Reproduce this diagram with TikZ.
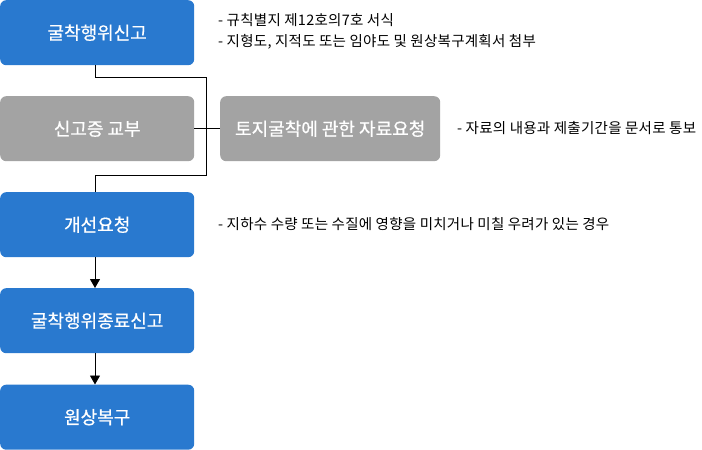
\documentclass[tikz,border=0pt]{standalone}
\usepackage{fontspec}
\setmainfont{Noto Sans CJK KR}
\newfontfamily\boxfont{Noto Sans CJK KR}[FakeBold=0.6]
\newfontfamily\notefont{Noto Sans CJK KR}[LetterSpace=1.8]
\usetikzlibrary{arrows.meta}
\definecolor{bblue}{HTML}{2979CF}
\definecolor{bgray}{HTML}{A3A3A3}
\tikzset{
  box/.style={rounded corners=6pt, minimum width=194pt, minimum height=65pt, inner sep=0pt, text=white, font=\boxfont\fontsize{18pt}{19pt}\selectfont, anchor=north west},
  bluebox/.style={box, fill=bblue},
  graybox/.style={box, fill=bgray},
  note/.style={font=\notefont\fontsize{14.5pt}{21pt}\selectfont, anchor=west, align=left, inner sep=0pt},
  conn/.style={line width=0.9pt, black},
  arr/.style={conn, -{Triangle[length=9pt, width=10pt]}}
}
\begin{document}
\begin{tikzpicture}[x=1pt, y=-1pt]
\useasboundingbox (0,0) rectangle (702,450);
\node[bluebox] (b1) at (0,0) {굴착행위신고};
\node[graybox] (b2) at (0,96) {신고증 교부};
\node[graybox, minimum width=220pt] (b3) at (220,96) {토지굴착에 관한 자료요청};
\node[bluebox] (b4) at (0,192) {개선요청};
\node[bluebox] (b5) at (0,288) {굴착행위종료신고};
\node[bluebox] (b6) at (0,384.5) {원상복구};
\coordinate (j1) at (95,77);
\coordinate (j2) at (206,77);
\coordinate (j3) at (206,175);
\coordinate (j4) at (95,175);
\draw[conn] (b1.south -| j1) -- (j1) -- (j2) -- (j3) -- (j4) -- (b4.north -| j4);
\draw[conn] (b2.east) -- (b3.west);
\draw[arr] (b4.south -| j1) -- (b5.north -| j1);
\draw[arr] (b5.south -| j1) -- (b6.north -| j1);
\node[note] (n1) at (218,31) {- 규칙별지 제12호의7호 서식\\- 지형도, 지적도 또는 임야도 및 원상복구계획서 첨부};
\node[note] (n3) at (457,128) {- 자료의 내용과 제출기간을 문서로 통보};
\node[note] (n4) at (218,224) {- 지하수 수량 또는 수질에 영향을 미치거나 미칠 우려가 있는 경우};
\end{tikzpicture}
\end{document}
